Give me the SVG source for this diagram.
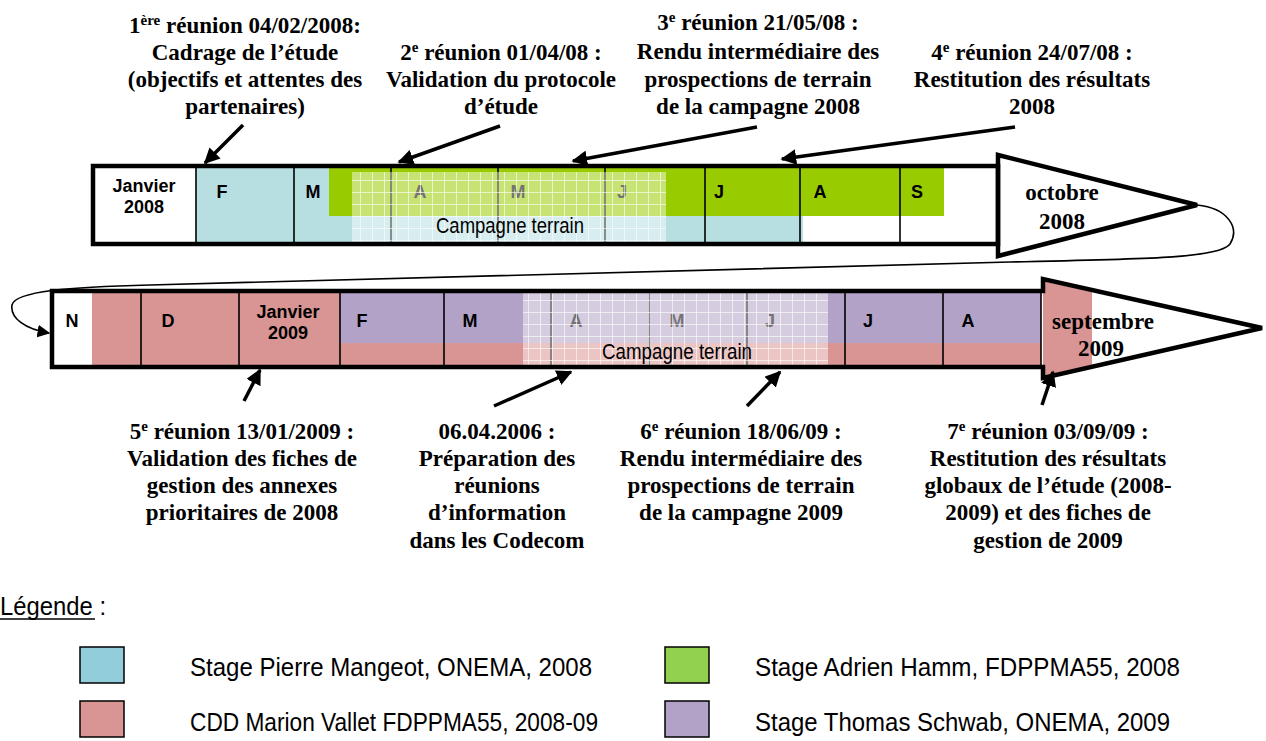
<svg xmlns="http://www.w3.org/2000/svg" width="1266" height="741" viewBox="0 0 1266 741">
<style>
.blk{font-family:"Liberation Serif","Times New Roman",serif;font-weight:bold;font-size:23px;fill:#000;text-anchor:middle}
.sup{font-size:15px}
.mon{font-family:"Liberation Sans",Arial,sans-serif;font-weight:bold;font-size:18px;fill:#000;text-anchor:middle}
.camp{font-family:"Liberation Sans",Arial,sans-serif;font-size:22px;fill:#000;text-anchor:middle}
.leg{font-family:"Liberation Sans",Arial,sans-serif;font-size:26px;fill:#000}
.div{stroke:#000;stroke-width:1.6}
.out{fill:none;stroke:#000;stroke-width:4.5;stroke-linejoin:miter}
.call{fill:none;stroke:#000;stroke-width:3.5;marker-end:url(#ah)}
.box{stroke:#000;stroke-width:1.5}
</style>
<defs>
<marker id="ah" viewBox="0 0 10 10" refX="9" refY="5" markerWidth="4.5" markerHeight="4.5" orient="auto" markerUnits="strokeWidth">
<path d="M0,0 L10,5 L0,10 z" fill="#000"/>
</marker>
<marker id="ah2" viewBox="0 0 10 10" refX="9" refY="5" markerWidth="8" markerHeight="8" orient="auto" markerUnits="strokeWidth">
<path d="M0,0 L10,5 L0,10 z" fill="#000"/>
</marker>
<pattern id="grid" width="12" height="12" patternUnits="userSpaceOnUse">
<rect width="12" height="12" fill="#fff" fill-opacity="0.45"/>
<path d="M0,0.5 H12 M0.5,0 V12" stroke="#fff" stroke-opacity="0.6" stroke-width="1"/>
</pattern>
</defs>

<rect width="1266" height="741" fill="#fff"/>

<!-- Top timeline 2008 -->
<g id="timeline-2008">
<rect x="93" y="166" width="905" height="78" fill="#fff"/>
<polygon points="998,155 1197,205 998,256" fill="#fff"/>
<rect x="196" y="168" width="607" height="74" fill="#B7DEE1"/>
<rect x="329" y="166" width="615" height="50" fill="#99CC00"/>
<g class="div">
<line x1="196" y1="164" x2="196" y2="244"/><line x1="294" y1="164" x2="294" y2="244"/>
<line x1="391" y1="164" x2="391" y2="244"/><line x1="498" y1="164" x2="498" y2="244"/>
<line x1="605" y1="164" x2="605" y2="244"/><line x1="705" y1="164" x2="705" y2="244"/>
<line x1="800" y1="164" x2="800" y2="244"/><line x1="900" y1="164" x2="900" y2="244"/>
</g>
<text class="mon" x="144" y="192">Janvier</text>
<text class="mon" x="144" y="213">2008</text>
<text class="mon" x="222" y="198">F</text>
<text class="mon" x="313" y="198">M</text>
<text class="mon" x="420" y="198">A</text>
<text class="mon" x="518" y="198">M</text>
<text class="mon" x="622" y="198">J</text>
<text class="mon" x="719" y="198">J</text>
<text class="mon" x="820" y="198">A</text>
<text class="mon" x="917" y="198">S</text>
<rect x="352" y="172" width="314" height="71" fill="url(#grid)"/>
<text class="camp" x="510" y="233" textLength="148" lengthAdjust="spacingAndGlyphs">Campagne terrain</text>
<rect x="93" y="166" width="905" height="78" class="out"/>
<polygon points="998,155 1197,205 998,256" class="out"/>
<text class="blk" x="1062" y="200">octobre</text>
<text class="blk" x="1062" y="229">2008</text>
</g>

<!-- Bottom timeline 2008-2009 -->
<g id="timeline-2009">
<polygon points="52,291 1043,291 1043,279 1262,328 1043,378 1043,367 52,367" fill="#fff"/>
<rect x="92" y="293" width="949" height="72" fill="#D99594"/>
<polygon points="1043,281 1092,292 1092,365 1043,376" fill="#D99594"/>
<rect x="340" y="293" width="701" height="50" fill="#B2A2C7"/>
<g class="div">
<line x1="141" y1="289" x2="141" y2="369"/><line x1="239" y1="289" x2="239" y2="369"/>
<line x1="340" y1="289" x2="340" y2="369"/><line x1="444" y1="289" x2="444" y2="369"/>
<line x1="551" y1="289" x2="551" y2="369"/><line x1="649" y1="289" x2="649" y2="369"/>
<line x1="747" y1="289" x2="747" y2="369"/><line x1="845" y1="289" x2="845" y2="369"/>
<line x1="943" y1="289" x2="943" y2="369"/><line x1="1041" y1="289" x2="1041" y2="369"/>
</g>
<text class="mon" x="72" y="327">N</text>
<text class="mon" x="168" y="327">D</text>
<text class="mon" x="288" y="318">Janvier</text>
<text class="mon" x="288" y="339">2009</text>
<text class="mon" x="362" y="327">F</text>
<text class="mon" x="470" y="327">M</text>
<text class="mon" x="576" y="327">A</text>
<text class="mon" x="677" y="327">M</text>
<text class="mon" x="770" y="327">J</text>
<text class="mon" x="868" y="327">J</text>
<text class="mon" x="968" y="327">A</text>
<rect x="523" y="292" width="305" height="75" fill="url(#grid)"/>
<text class="camp" x="677" y="359" textLength="150" lengthAdjust="spacingAndGlyphs">Campagne terrain</text>
<polygon points="52,291 1043,291 1043,279 1262,328 1043,378 1043,367 52,367" class="out"/>
<text class="blk" x="1103" y="329">septembre</text>
<text class="blk" x="1101" y="356">2009</text>
</g>

<!-- Meeting labels -->
<g id="meeting-1">
<text class="blk" x="245" y="33">1<tspan class="sup" dy="-8">ère</tspan><tspan dy="8"> réunion 04/02/2008:</tspan></text>
<text class="blk" x="245" y="60">Cadrage de l’étude</text>
<text class="blk" x="245" y="87">(objectifs et attentes des</text>
<text class="blk" x="245" y="114">partenaires)</text>
</g>
<g id="meeting-2">
<text class="blk" x="501" y="60">2<tspan class="sup" dy="-8">e</tspan><tspan dy="8"> réunion 01/04/08 :</tspan></text>
<text class="blk" x="501" y="87">Validation du protocole</text>
<text class="blk" x="501" y="114">d’étude</text>
</g>
<g id="meeting-3">
<text class="blk" x="758" y="30">3<tspan class="sup" dy="-8">e</tspan><tspan dy="8"> réunion 21/05/08 :</tspan></text>
<text class="blk" x="758" y="59">Rendu intermédiaire des</text>
<text class="blk" x="758" y="87">prospections de terrain</text>
<text class="blk" x="758" y="114">de la campagne 2008</text>
</g>
<g id="meeting-4">
<text class="blk" x="1032" y="60">4<tspan class="sup" dy="-8">e</tspan><tspan dy="8"> réunion 24/07/08 :</tspan></text>
<text class="blk" x="1032" y="87">Restitution des résultats</text>
<text class="blk" x="1032" y="114">2008</text>
</g>
<g id="meeting-5">
<text class="blk" x="242" y="439">5<tspan class="sup" dy="-8">e</tspan><tspan dy="8"> réunion 13/01/2009 :</tspan></text>
<text class="blk" x="242" y="466">Validation des fiches de</text>
<text class="blk" x="242" y="493">gestion des annexes</text>
<text class="blk" x="242" y="520">prioritaires de 2008</text>
</g>
<g id="info-codecom">
<text class="blk" x="497" y="439">06.04.2006 :</text>
<text class="blk" x="497" y="466">Préparation des</text>
<text class="blk" x="497" y="493">réunions</text>
<text class="blk" x="497" y="520">d’information</text>
<text class="blk" x="497" y="548">dans les Codecom</text>
</g>
<g id="meeting-6">
<text class="blk" x="741" y="439">6<tspan class="sup" dy="-8">e</tspan><tspan dy="8"> réunion 18/06/09 :</tspan></text>
<text class="blk" x="741" y="466">Rendu intermédiaire des</text>
<text class="blk" x="741" y="493">prospections de terrain</text>
<text class="blk" x="741" y="520">de la campagne 2009</text>
</g>
<g id="meeting-7">
<text class="blk" x="1048" y="439">7<tspan class="sup" dy="-8">e</tspan><tspan dy="8"> réunion 03/09/09 :</tspan></text>
<text class="blk" x="1048" y="466">Restitution des résultats</text>
<text class="blk" x="1048" y="493">globaux de l’étude (2008-</text>
<text class="blk" x="1048" y="520">2009) et des fiches de</text>
<text class="blk" x="1048" y="548">gestion de 2009</text>
</g>

<!-- Connectors -->
<g id="connectors">
<path class="call" d="M243,125 L205,163"/>
<path class="call" d="M500,126 L399,162"/>
<path class="call" d="M757,127 L573,161"/>
<path class="call" d="M1015,127 L782,159"/>
<path class="call" d="M244,401 L260,370"/>
<path class="call" d="M494,406 L571,372"/>
<path class="call" d="M747,406 L780,372"/>
<path class="call" d="M1042,405 L1053,372"/>
<path d="M1197,205 C1228,208 1240,228 1230,244 C1220,258 1150,259 1010,262 L150,285 C70,287 15,291 12,305 C10,318 25,329 49,333" fill="none" stroke="#000" stroke-width="1.6" marker-end="url(#ah2)"/>
</g>

<!-- Legend -->
<g id="legend">
<text class="leg" x="0" y="615" textLength="106" lengthAdjust="spacingAndGlyphs">Légende :</text>
<line x1="0" y1="619" x2="95" y2="619" stroke="#000" stroke-width="1.5"/>
<rect class="box" x="80" y="647" width="44" height="36" fill="#92CDDC"/>
<rect class="box" x="80" y="701" width="44" height="36" fill="#D99594"/>
<rect class="box" x="665" y="647" width="44" height="36" fill="#92D050"/>
<rect class="box" x="665" y="701" width="44" height="36" fill="#B2A2C7"/>
<text class="leg" x="190" y="676" textLength="402" lengthAdjust="spacingAndGlyphs">Stage Pierre Mangeot, ONEMA, 2008</text>
<text class="leg" x="190" y="731" textLength="408" lengthAdjust="spacingAndGlyphs">CDD Marion Vallet FDPPMA55, 2008-09</text>
<text class="leg" x="755" y="676" textLength="425" lengthAdjust="spacingAndGlyphs">Stage Adrien Hamm, FDPPMA55, 2008</text>
<text class="leg" x="755" y="731" textLength="415" lengthAdjust="spacingAndGlyphs">Stage Thomas Schwab, ONEMA, 2009</text>
</g>
</svg>
